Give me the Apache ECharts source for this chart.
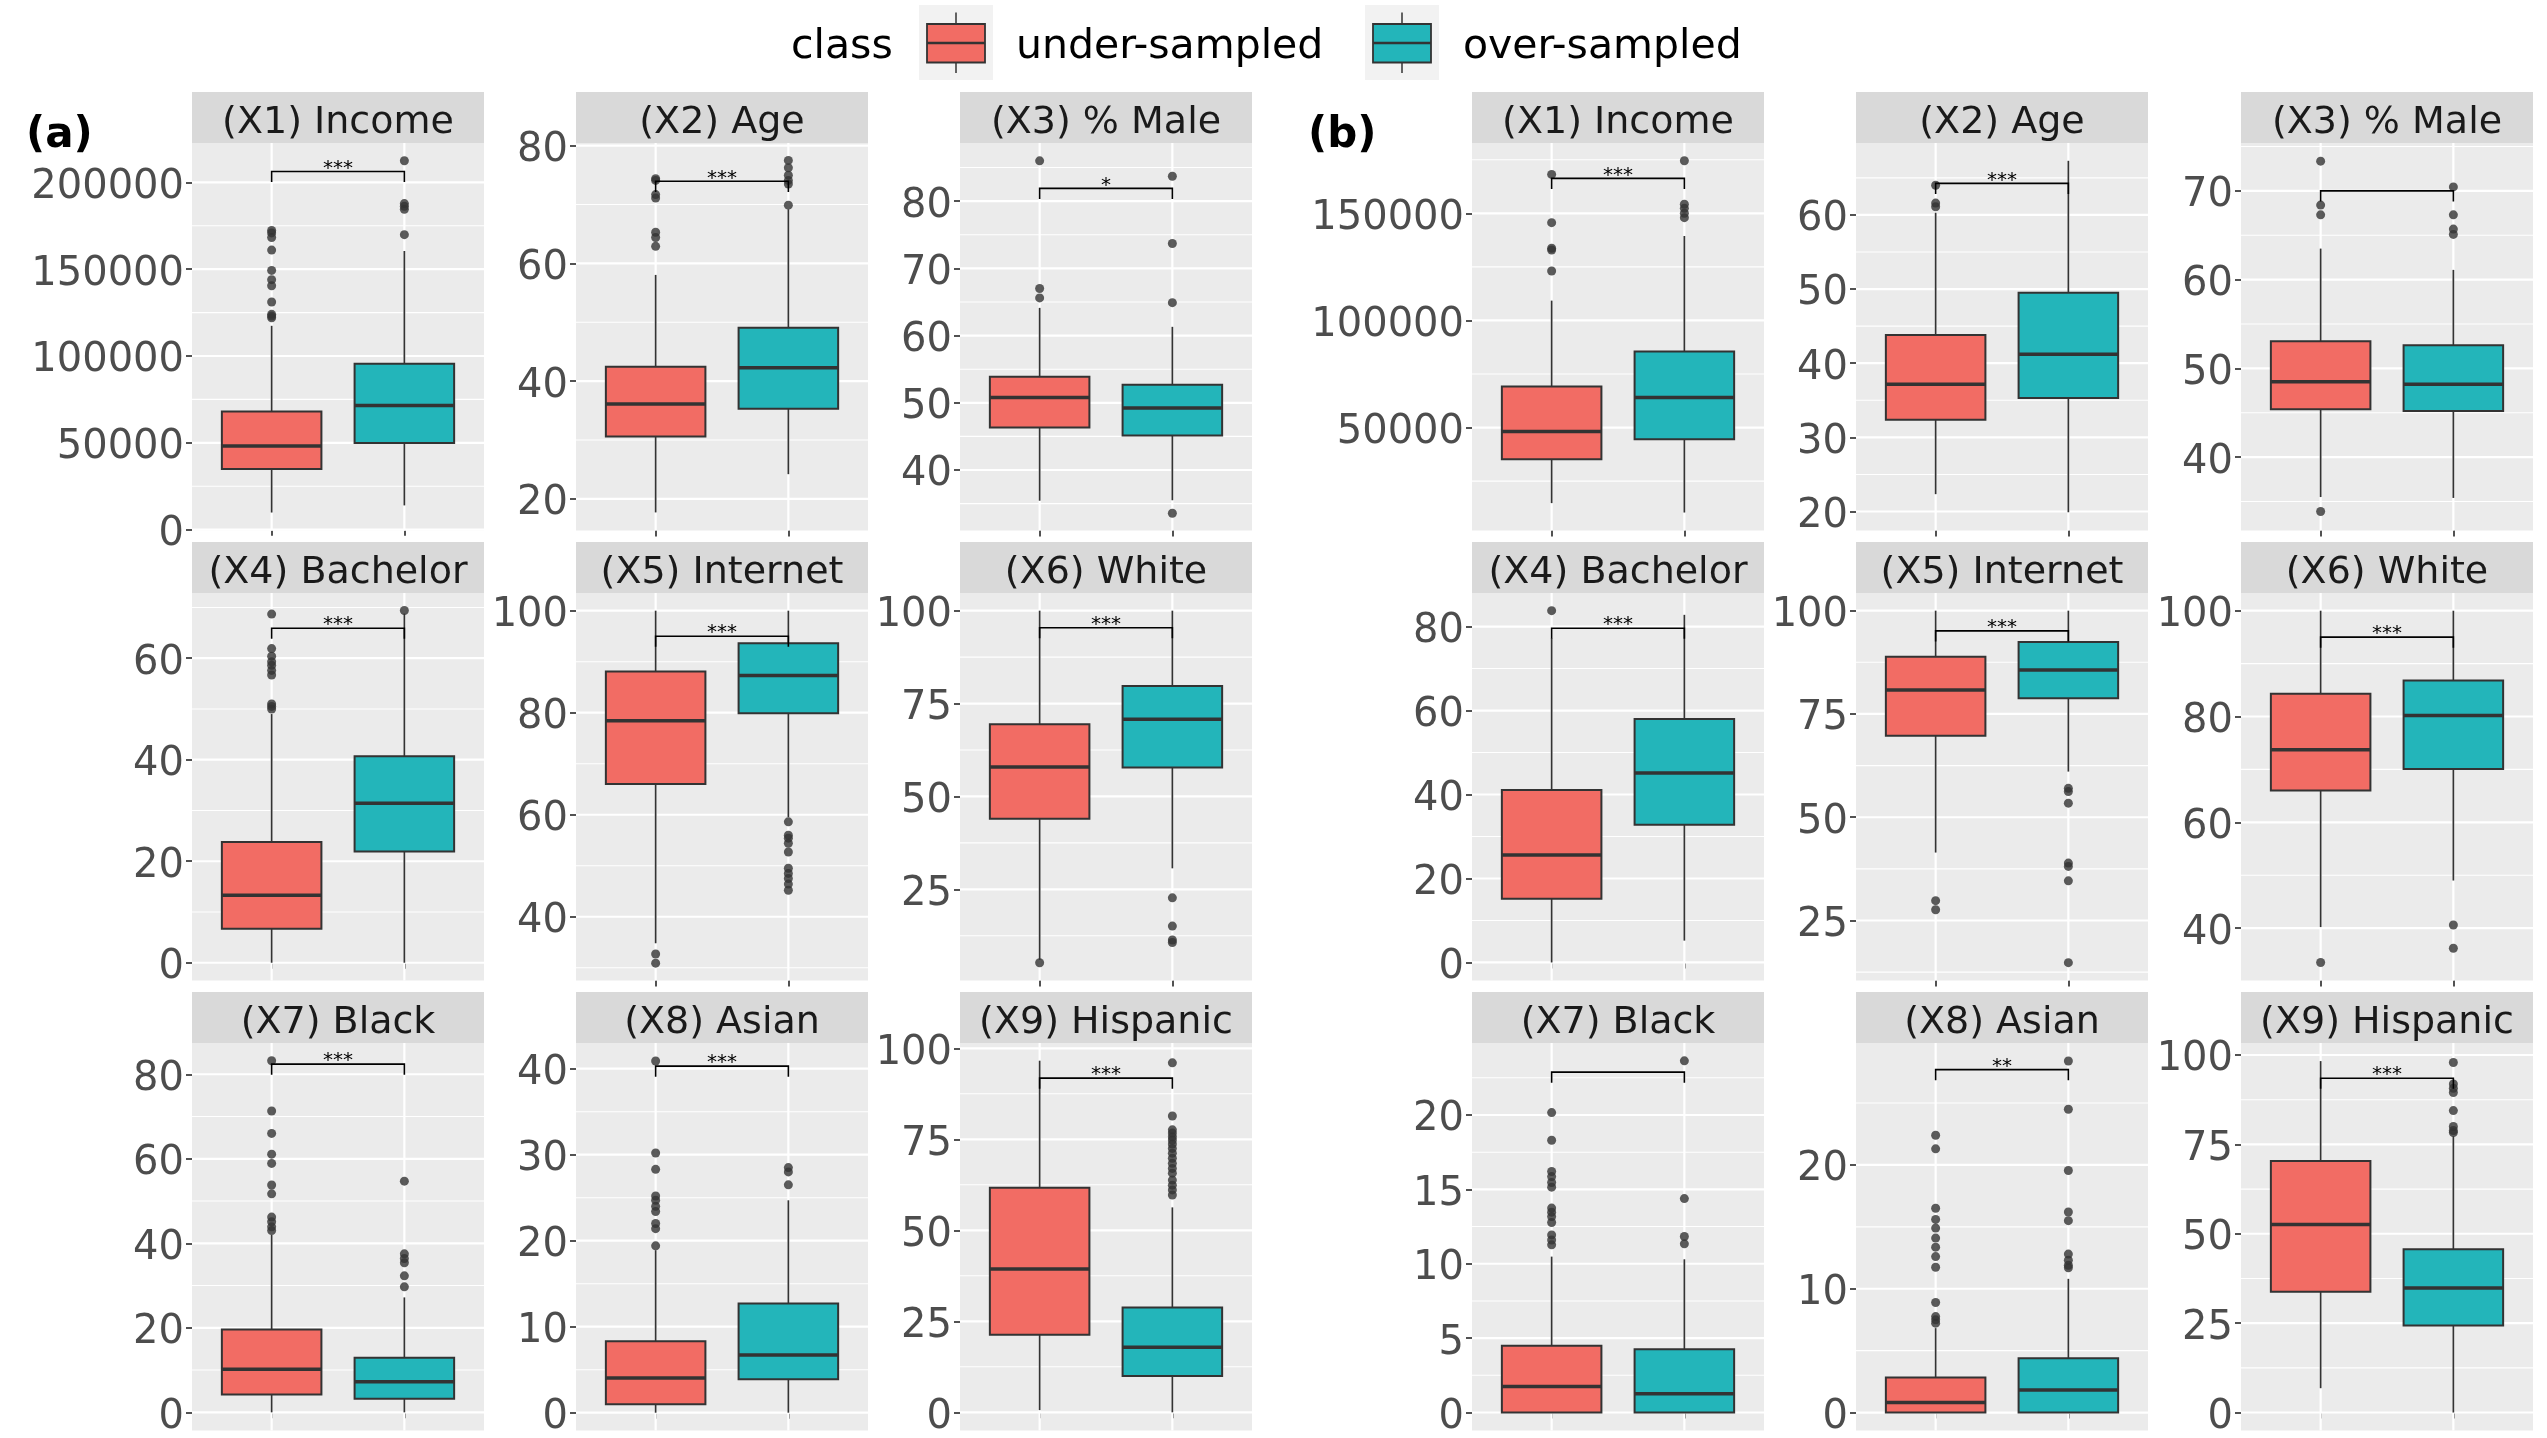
<!DOCTYPE html>
<html>
<head>
<meta charset="utf-8">
<script src="https://cdn.jsdelivr.net/npm/echarts@6.0.0/dist/echarts.min.js"></script>
<style>
  html, body { margin: 0; padding: 0; background: #fff; }
  #chart { width: 2547px; height: 1438px; }
</style>
</head>
<body>
<div id="chart"></div>
<script>
// panel titles, row by row
const titles = ['(X1) Income', '(X2) Age', '(X3) % Male', '(X4) Bachelor', '(X5) Internet',
  '(X6) White', '(X7) Black', '(X8) Asian', '(X9) Hispanic'];

// ---- group (a) ----
// box stats: [lower whisker, Q1, median, Q3, upper whisker]
const underA = [
  [9850, 34900, 48150, 68100, 117400],
  [17.7, 30.6, 36.14, 42.45, 58.05],
  [35.43, 46.32, 50.79, 53.87, 64.12],
  [0, 6.7, 13.3, 23.8, 49.0],
  [34.8, 66.0, 78.4, 88.1, 100],
  [6.0, 44.0, 57.9, 69.4, 100],
  [0, 4.2, 10.2, 19.6, 42.0],
  [0, 0.98, 4.03, 8.3, 18.9],
  [0.6, 21.3, 39.4, 61.7, 96.6]
];
const overA = [
  [13950, 49950, 71550, 95600, 160500],
  [24.2, 35.3, 42.26, 49.06, 69.2],
  [35.5, 45.15, 49.24, 52.7, 61.3],
  [0, 21.9, 31.4, 40.7, 68.8],
  [59.5, 79.9, 87.3, 93.6, 100],
  [30.65, 57.8, 70.75, 79.7, 100],
  [0, 3.2, 7.25, 12.9, 27.2],
  [0, 3.9, 6.7, 12.7, 24.7],
  [0, 10.0, 17.9, 28.8, 56.3]
];
const underOutA = [
  [172300, 170900, 168300, 161000, 149300, 144000, 140500, 131100, 124000, 123000, 122000],
  [74.4, 74.1, 71.7, 71.1, 65.3, 64.4, 62.9],
  [65.6, 67.0, 86.0],
  [50.0, 50.5, 51.0, 56.7, 57.6, 58.6, 59.3, 60.4, 61.9, 68.7],
  [32.7, 30.9],
  [5.25],
  [43.0, 43.9, 45.1, 46.2, 51.7, 53.8, 58.9, 61.1, 66.0, 71.3, 83.2],
  [19.4, 21.4, 22.0, 23.4, 24.0, 24.7, 25.2, 28.3, 30.2, 40.9],
  []
];
const overOutA = [
  [169900, 184500, 186200, 187800, 212500],
  [69.9, 73.5, 74.1, 75.0, 76.25, 77.5],
  [33.57, 64.9, 73.7, 83.7],
  [69.4],
  [58.6, 56.0, 55.4, 54.4, 52.7, 49.5, 48.5, 47.5, 46.4, 45.2],
  [22.7, 15.1, 11.35, 10.7],
  [29.7, 32.3, 35.4, 36.4, 37.5, 54.7],
  [26.5, 28.0, 28.5],
  [59.7, 61.1, 62.4, 63.8, 65.7, 67.0, 68.4, 69.8, 71.2, 72.5, 73.7, 74.8, 75.7, 76.7, 77.6, 81.4, 96.0]
];
const ticksA = [
  [0, 50000, 100000, 150000, 200000],
  [20, 40, 60, 80],
  [40, 50, 60, 70, 80],
  [0, 20, 40, 60],
  [40, 60, 80, 100],
  [25, 50, 75, 100],
  [0, 20, 40, 60, 80],
  [0, 10, 20, 30, 40],
  [0, 25, 50, 75, 100]
];
const rangeA = [
  [-500, 222700], [14.63, 80.46], [31.0, 88.65],
  [-3.5, 72.85], [27.5, 103.47], [0.46, 104.76],
  [-4.3, 87.4], [-2.07, 42.99], [-5.0, 101.46]
];
const bracketA = [206300, 73.95, 81.9, 65.9, 95.0, 95.4, 82.4, 40.3, 91.8];
const starsA = ['***', '***', '*', '***', '***', '***', '***', '***', '***'];

// ---- group (b) ----
const underB = [
  [14740, 35260, 48130, 69120, 109240],
  [22.34, 32.36, 37.17, 43.8, 60.3],
  [35.5, 45.4, 48.5, 53.07, 63.5],
  [0, 15.2, 25.6, 41.1, 77.2],
  [41.45, 69.7, 80.8, 88.87, 100],
  [40.2, 66.0, 73.7, 84.3, 100],
  [0, 0, 1.75, 4.48, 10.48],
  [0, 0, 0.81, 2.83, 6.82],
  [6.8, 33.8, 52.6, 70.35, 98.3]
];
const overB = [
  [10350, 44590, 63990, 85450, 139400],
  [19.9, 35.3, 41.2, 49.5, 67.3],
  [35.4, 45.2, 48.2, 52.6, 61.1],
  [5.2, 32.8, 45.1, 58.0, 82.8],
  [61.05, 78.8, 85.65, 92.4, 100],
  [49.0, 70.06, 80.2, 86.8, 100],
  [0, 0, 1.26, 4.26, 10.3],
  [0, 0, 1.83, 4.39, 10.8],
  [0, 24.35, 34.8, 45.7, 77.3]
];
const underOutB = [
  [123090, 132880, 133670, 145620, 168150],
  [61.1, 61.6, 64.0],
  [33.87, 67.3, 68.4, 73.35],
  [83.8],
  [29.8, 27.6],
  [33.5],
  [11.27, 11.6, 11.94, 12.77, 13.17, 13.47, 13.74, 15.15, 15.46, 15.86, 16.2, 18.3, 20.16],
  [7.22, 7.49, 7.75, 8.89, 11.74, 12.6, 13.36, 14.09, 14.9, 15.6, 16.5, 21.3, 22.4],
  []
];
const overOutB = [
  [147950, 150000, 152300, 154200, 174500],
  [],
  [65.1, 65.7, 67.3, 70.45],
  [],
  [57.0, 56.2, 53.4, 38.9, 38.1, 34.6, 14.8],
  [40.6, 36.2],
  [11.34, 11.83, 14.38, 23.64],
  [11.7, 11.9, 12.3, 12.8, 15.5, 16.2, 19.55, 24.5, 28.4],
  [78.3, 78.9, 80.0, 84.45, 89.5, 90.7, 91.9, 97.9]
];
const ticksB = [
  [50000, 100000, 150000],
  [20, 30, 40, 50, 60],
  [40, 50, 60, 70],
  [0, 20, 40, 60, 80],
  [25, 50, 75, 100],
  [40, 60, 80, 100],
  [0, 5, 10, 15, 20],
  [0, 10, 20],
  [0, 25, 50, 75, 100]
];
const rangeB = [
  [1960, 182800], [17.44, 69.7], [31.73, 75.4],
  [-4.3, 88.0], [10.48, 104.28], [30.1, 103.35],
  [-1.21, 24.84], [-1.45, 29.85], [-5.03, 103.36]
];
const bracketB = [166300, 64.26, 70.0, 79.6, 95.1, 95.0, 22.88, 27.7, 93.5];
const starsB = ['***', '***', '', '***', '***', '***', '', '**', '***'];

const classNames = ['under-sampled', 'over-sampled'];

// layout (px)
const FONT = 'DejaVu Sans';
const RED = '#F26C64';
const TEAL = '#23B5BA';
const INK = '#333333';
const PANEL_W = 292;
const STRIP_TOP = 92;
const STRIP_H = 51;
const PLOT_H = 387.5;
const ROW_PITCH = 450;
const colLeftA = [192, 576, 960];
const colLeftB = [1472, 1856, 2241];

const grids = [];
const xAxes = [];
const yAxes = [];
const series = [];
const elements = [];

function addGroup(colLeft, under, over, underOut, overOut, ticks, range, bracket, stars) {
  for (let i = 0; i < 9; i++) {
    const r = Math.floor(i / 3);
    const c = i % 3;
    const left = colLeft[c];
    const top = STRIP_TOP + r * ROW_PITCH;
    const gi = grids.length;
    const lo = range[i][0];
    const hi = range[i][1];
    const t = ticks[i];

    grids.push({
      left: left, top: top + STRIP_H, width: PANEL_W, height: PLOT_H,
      show: true, backgroundColor: '#EBEBEB', borderWidth: 0,
      containLabel: false, outerBoundsMode: 'none'
    });
    xAxes.push({
      type: 'value', gridIndex: gi, min: 0.4, max: 2.6,
      axisLine: { show: false },
      splitLine: { show: false },
      axisTick: { show: true, customValues: [1, 2], length: 6, lineStyle: { color: INK, width: 1.7 } },
      axisLabel: { show: false }
    });
    yAxes.push({
      type: 'value', gridIndex: gi, min: lo, max: hi,
      axisLine: { show: false },
      splitLine: { show: false },
      axisTick: { show: true, customValues: t, length: 6, lineStyle: { color: INK, width: 1.7 } },
      axisLabel: {
        show: true, customValues: t, formatter: v => String(v),
        fontSize: 40, color: '#4D4D4D', fontFamily: FONT, margin: 8,
        verticalAlign: 'top', lineHeight: 10
      }
    });

    // strip
    elements.push({
      type: 'rect', shape: { x: left, y: top, width: PANEL_W, height: STRIP_H },
      style: { fill: '#D9D9D9' }, silent: true
    });
    elements.push({
      type: 'text', x: left + PANEL_W / 2, y: top + 31,
      style: {
        text: titles[i], fontSize: 38, fontFamily: FONT, fill: '#1A1A1A',
        align: 'center', verticalAlign: 'middle', textAlign: 'center', textVerticalAlign: 'middle'
      },
      silent: true
    });

    // grid lines: major at ticks, minor half way between
    const step = t[1] - t[0];
    const gridData = [];
    for (let k = -1; k < t.length; k++) {
      const v = t[0] + (k + 0.5) * step;
      if (v > lo && v < hi) gridData.push([1, v, 1]);
    }
    t.forEach(v => { if (v >= lo && v <= hi) gridData.push([1, v, 0]); });
    gridData.push([1, lo, 2], [2, lo, 2]);
    series.push({
      type: 'custom', xAxisIndex: gi, yAxisIndex: gi, z: 1, silent: true,
      data: gridData,
      renderItem: (params, api) => {
        const cs = params.coordSys;
        const kind = api.value(2);
        if (kind === 2) {
          const x = api.coord([api.value(0), lo])[0];
          return { type: 'line', shape: { x1: x, y1: cs.y, x2: x, y2: cs.y + cs.height },
            style: { stroke: '#FFFFFF', lineWidth: 2.2 } };
        }
        const y = api.coord([1, api.value(1)])[1];
        return { type: 'line', shape: { x1: cs.x, y1: y, x2: cs.x + cs.width, y2: y },
          style: { stroke: '#FFFFFF', lineWidth: kind === 0 ? 2.2 : 1.1 } };
      }
    });

    // boxes
    series.push({
      type: 'custom', xAxisIndex: gi, yAxisIndex: gi, z: 3, silent: true,
      data: [[1].concat(under[i], [0]), [2].concat(over[i], [1])],
      renderItem: (params, api) => {
        const x = api.value(0);
        const half = api.size([0.75, 0])[0] / 2;
        const cx = api.coord([x, api.value(3)])[0];
        const py = k => api.coord([x, api.value(k)])[1];
        const yLow = py(1), yQ1 = py(2), yMed = py(3), yQ3 = py(4), yHigh = py(5);
        const fill = api.value(6) === 0 ? RED : TEAL;
        return {
          type: 'group',
          children: [
            { type: 'line', shape: { x1: cx, y1: yQ1, x2: cx, y2: yLow }, style: { stroke: INK, lineWidth: 1.7 } },
            { type: 'line', shape: { x1: cx, y1: yQ3, x2: cx, y2: yHigh }, style: { stroke: INK, lineWidth: 1.7 } },
            { type: 'rect', shape: { x: cx - half, y: yQ3, width: 2 * half, height: yQ1 - yQ3 },
              style: { fill: fill, stroke: INK, lineWidth: 2 } },
            { type: 'line', shape: { x1: cx - half, y1: yMed, x2: cx + half, y2: yMed },
              style: { stroke: INK, lineWidth: 3.5 } }
          ]
        };
      }
    });

    // outliers
    series.push({
      type: 'scatter', xAxisIndex: gi, yAxisIndex: gi, z: 4, silent: true,
      symbol: 'circle', symbolSize: 9,
      itemStyle: { color: INK },
      data: underOut[i].map(v => [1, v]).concat(overOut[i].map(v => [2, v]))
    });

    // significance bracket
    const tip = 0.03 * (hi - lo) / 1.1;
    const label = stars[i];
    series.push({
      type: 'custom', xAxisIndex: gi, yAxisIndex: gi, z: 5, silent: true,
      data: [[1, bracket[i], tip]],
      renderItem: (params, api) => {
        const y = api.value(1);
        const d = api.value(2);
        const p1 = api.coord([1, y - d]);
        const p2 = api.coord([1, y]);
        const p3 = api.coord([2, y]);
        const p4 = api.coord([2, y - d]);
        const mid = api.coord([1.5, y]);
        return {
          type: 'group',
          children: [
            { type: 'polyline', shape: { points: [p1, p2, p3, p4] },
              style: { stroke: '#000000', lineWidth: 1.6, fill: 'none' } },
            { type: 'text', x: mid[0], y: mid[1] - 3,
              style: { text: label, fontSize: 20, fontFamily: FONT, fill: '#000000',
                align: 'center', verticalAlign: 'middle', textAlign: 'center', textVerticalAlign: 'middle' } }
          ]
        };
      }
    });
  }
}

addGroup(colLeftA, underA, overA, underOutA, overOutA, ticksA, rangeA, bracketA, starsA);
addGroup(colLeftB, underB, overB, underOutB, overOutB, ticksB, rangeB, bracketB, starsB);

// panel tags
[['(a)', 26], ['(b)', 1308]].forEach(([txt, x]) => {
  elements.push({
    type: 'text', x: x, y: 136,
    style: { text: txt, fontSize: 42, fontWeight: 'bold', fontFamily: FONT, fill: '#000000',
      align: 'left', verticalAlign: 'middle', textAlign: 'left', textVerticalAlign: 'middle' },
    silent: true
  });
});

// legend
elements.push({
  type: 'text', x: 791, y: 47,
  style: { text: 'class', fontSize: 41, fontFamily: FONT, fill: '#000000',
    align: 'left', verticalAlign: 'middle', textAlign: 'left', textVerticalAlign: 'middle' },
  silent: true
});
[[919, RED, 1016], [1365, TEAL, 1463]].forEach(([kx, col, tx], k) => {
  const cx = kx + 37;
  elements.push(
    { type: 'rect', shape: { x: kx, y: 5, width: 74, height: 75 }, style: { fill: '#F2F2F2' }, silent: true },
    { type: 'line', shape: { x1: cx, y1: 12.5, x2: cx, y2: 73 }, style: { stroke: INK, lineWidth: 1.5 }, silent: true },
    { type: 'rect', shape: { x: cx - 29, y: 24, width: 58, height: 38.5 },
      style: { fill: col, stroke: INK, lineWidth: 1.8 }, silent: true },
    { type: 'line', shape: { x1: cx - 29, y1: 43, x2: cx + 29, y2: 43 }, style: { stroke: INK, lineWidth: 2.5 }, silent: true },
    { type: 'text', x: tx, y: 47,
      style: { text: classNames[k], fontSize: 41, fontFamily: FONT, fill: '#000000',
        align: 'left', verticalAlign: 'middle', textAlign: 'left', textVerticalAlign: 'middle' },
      silent: true }
  );
});

const chart = echarts.init(document.getElementById('chart'), null, { renderer: 'canvas' });
chart.setOption({
  animation: false,
  backgroundColor: '#FFFFFF',
  grid: grids,
  xAxis: xAxes,
  yAxis: yAxes,
  series: series,
  graphic: { elements: elements }
});
</script>
</body>
</html>
